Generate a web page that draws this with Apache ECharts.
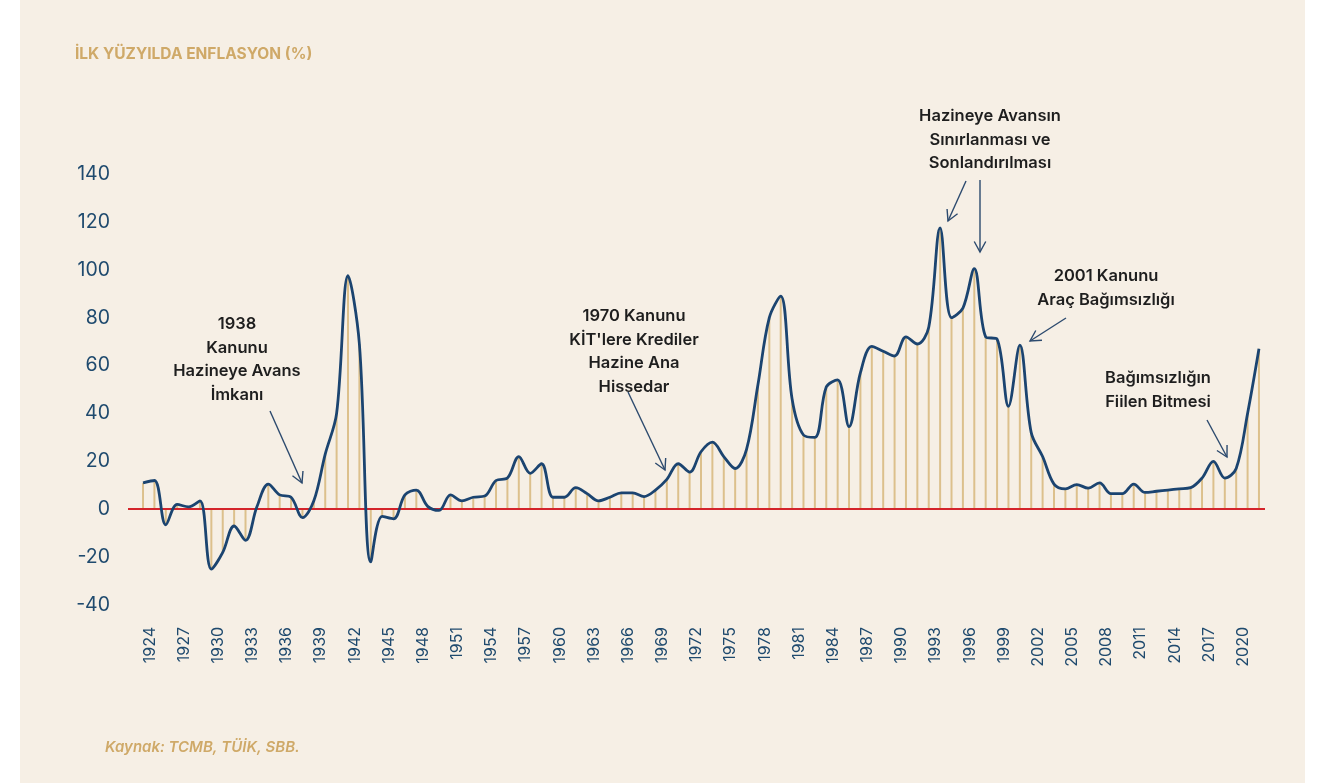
<!DOCTYPE html>
<html>
<head>
<meta charset="utf-8">
<script src="https://cdn.jsdelivr.net/npm/echarts@6/dist/echarts.min.js"></script>
<style>
html, body { margin: 0; padding: 0; background: #ffffff; }
#chart { width: 1334px; height: 783px; }
</style>
</head>
<body>
<div id="chart"></div>
<script>
var chart = echarts.init(document.getElementById('chart'));

// yillar 1924 - 2022
var years = [
  1924, 1925, 1926, 1927, 1928, 1929, 1930, 1931, 1932, 1933,
  1934, 1935, 1936, 1937, 1938, 1939, 1940, 1941, 1942, 1943,
  1944, 1945, 1946, 1947, 1948, 1949, 1950, 1951, 1952, 1953,
  1954, 1955, 1956, 1957, 1958, 1959, 1960, 1961, 1962, 1963,
  1964, 1965, 1966, 1967, 1968, 1969, 1970, 1971, 1972, 1973,
  1974, 1975, 1976, 1977, 1978, 1979, 1980, 1981, 1982, 1983,
  1984, 1985, 1986, 1987, 1988, 1989, 1990, 1991, 1992, 1993,
  1994, 1995, 1996, 1997, 1998, 1999, 2000, 2001, 2002, 2003,
  2004, 2005, 2006, 2007, 2008, 2009, 2010, 2011, 2012, 2013,
  2014, 2015, 2016, 2017, 2018, 2019, 2020, 2021, 2022
];

// enflasyon (%)
var inflation = [
  11, 12, -6.5, 2, 1, 3.5, -25, -18, -7, -13,
  1, 10.5, 6, 5, -3.5, 3.5, 23, 40, 97.5, 69,
  -22, -3, -4, 6, 8, 1.2, -0.5, 6, 3.5, 5,
  5.5, 12, 13, 22, 15, 19, 5, 5, 9, 6.5,
  3.5, 5, 6.8, 6.8, 5.3, 8, 12.5, 19, 15.5, 24,
  28, 22, 17, 25, 52, 80, 89, 46, 31, 30,
  51, 54, 34.5, 57, 68, 66, 64, 72, 69, 76,
  117.5, 80, 84, 100.5, 72, 71, 43, 68.5, 32, 22,
  10.5, 8.5, 10.3, 8.8, 11, 6.5, 6.5, 10.5, 7, 7.5,
  8, 8.5, 9, 13, 20, 13, 17, 40, 67
];

// eksen etiketleri (her 3 yilda bir)
var xLabelYears = [1924, 1927, 1930, 1933, 1936, 1939, 1942, 1945, 1948, 1951,
  1954, 1957, 1960, 1963, 1966, 1969, 1972, 1975, 1978, 1981, 1984, 1987,
  1990, 1993, 1996, 1999, 2002, 2005, 2008, 2011, 2014, 2017, 2020];

var title = 'İLK YÜZYILDA ENFLASYON (%)';
var source = 'Kaynak: TCMB, TÜİK, SBB.';

var notes = [
  { lines: ['1938', 'Kanunu', 'Hazineye Avans', 'İmkanı'], x: 237, y: 324 },
  { lines: ['1970 Kanunu', 'KİT\'lere Krediler', 'Hazine Ana', 'Hissedar'], x: 634, y: 316 },
  { lines: ['Hazineye Avansın', 'Sınırlanması ve', 'Sonlandırılması'], x: 990, y: 116 },
  { lines: ['2001 Kanunu', 'Araç Bağımsızlığı'], x: 1106, y: 276 },
  { lines: ['Bağımsızlığın', 'Fiilen Bitmesi'], x: 1158, y: 378 }
];

var arrows = [
  [270, 411, 302, 483],
  [628, 392, 665, 470],
  [966, 181, 948, 221],
  [980, 180, 980, 252],
  [1066, 318, 1030, 341],
  [1207, 420, 1227, 457]
];

// etiketler veri noktalarinin biraz sagina yazilmis
var labelShift = 0.6;

var seriesData = years.map(function (y, i) { return [y, inflation[i]]; });

var graphics = [
  { type: 'rect', silent: true, z: -10, shape: { x: 20, y: 0, width: 1285, height: 783 }, style: { fill: '#F6EFE5' } },
  { type: 'text', left: 75, top: 46, style: { text: title, fill: '#CFA968', font: '700 15.5px Inter' } },
  { type: 'text', left: 105, top: 740, style: { text: source, fill: '#CFA968', font: 'italic 600 15px Inter' } }
];

notes.forEach(function (n) {
  n.lines.forEach(function (t, k) {
    graphics.push({
      type: 'text', x: n.x, y: n.y + k * 23.7,
      style: { text: t, fill: '#1E1E1E', font: '600 16.5px Inter', align: 'center', verticalAlign: 'middle' }
    });
  });
});

arrows.forEach(function (a) {
  var ang = Math.atan2(a[3] - a[1], a[2] - a[0]);
  var L = 12, s = 0.5;
  var p1 = [a[2] - L * Math.cos(ang - s), a[3] - L * Math.sin(ang - s)];
  var p2 = [a[2] - L * Math.cos(ang + s), a[3] - L * Math.sin(ang + s)];
  graphics.push({ type: 'line', shape: { x1: a[0], y1: a[1], x2: a[2], y2: a[3] }, style: { stroke: '#2C4A6E', lineWidth: 1.4 } });
  graphics.push({ type: 'polyline', shape: { points: [p1, [a[2], a[3]], p2] }, style: { stroke: '#2C4A6E', lineWidth: 1.4, fill: null } });
});

option = {
  backgroundColor: '#ffffff',
  animation: false,
  grid: {
    left: 128,
    right: 69,
    top: 174,
    bottom: 178
  },
  xAxis: {
    type: 'value',
    min: 1922.68,
    max: 2022.53,
    axisLine: { show: false },
    axisTick: { show: false },
    splitLine: { show: false },
    axisLabel: {
      customValues: xLabelYears.map(function (y) { return y + labelShift; }),
      rotate: 90,
      margin: 22,
      color: '#1F4A6E',
      fontFamily: 'Inter',
      fontSize: 16,
      formatter: function (v) { return String(Math.round(v - labelShift)); }
    }
  },
  yAxis: {
    type: 'value',
    min: -40,
    max: 140,
    interval: 20,
    axisLine: { show: false },
    axisTick: { show: false },
    splitLine: { show: false },
    axisLabel: {
      margin: 18,
      color: '#1F4A6E',
      fontFamily: 'Inter',
      fontSize: 19.5
    }
  },
  series: [
    {
      name: 'stems',
      type: 'bar',
      barWidth: 2,
      itemStyle: { color: '#DCC08C' },
      data: seriesData,
      z: 1
    },
    {
      name: 'Enflasyon',
      type: 'line',
      smooth: 0.35,
      symbol: 'none',
      lineStyle: { color: '#1B4470', width: 2.8 },
      data: seriesData,
      z: 3,
      markLine: {
        silent: true,
        symbol: ['none', 'none'],
        label: { show: false },
        lineStyle: { color: '#D4242B', width: 2, type: 'solid' },
        data: [{ yAxis: 0 }],
        z: 2
      }
    }
  ],
  graphic: graphics
};

chart.setOption(option);
</script>
</body>
</html>
